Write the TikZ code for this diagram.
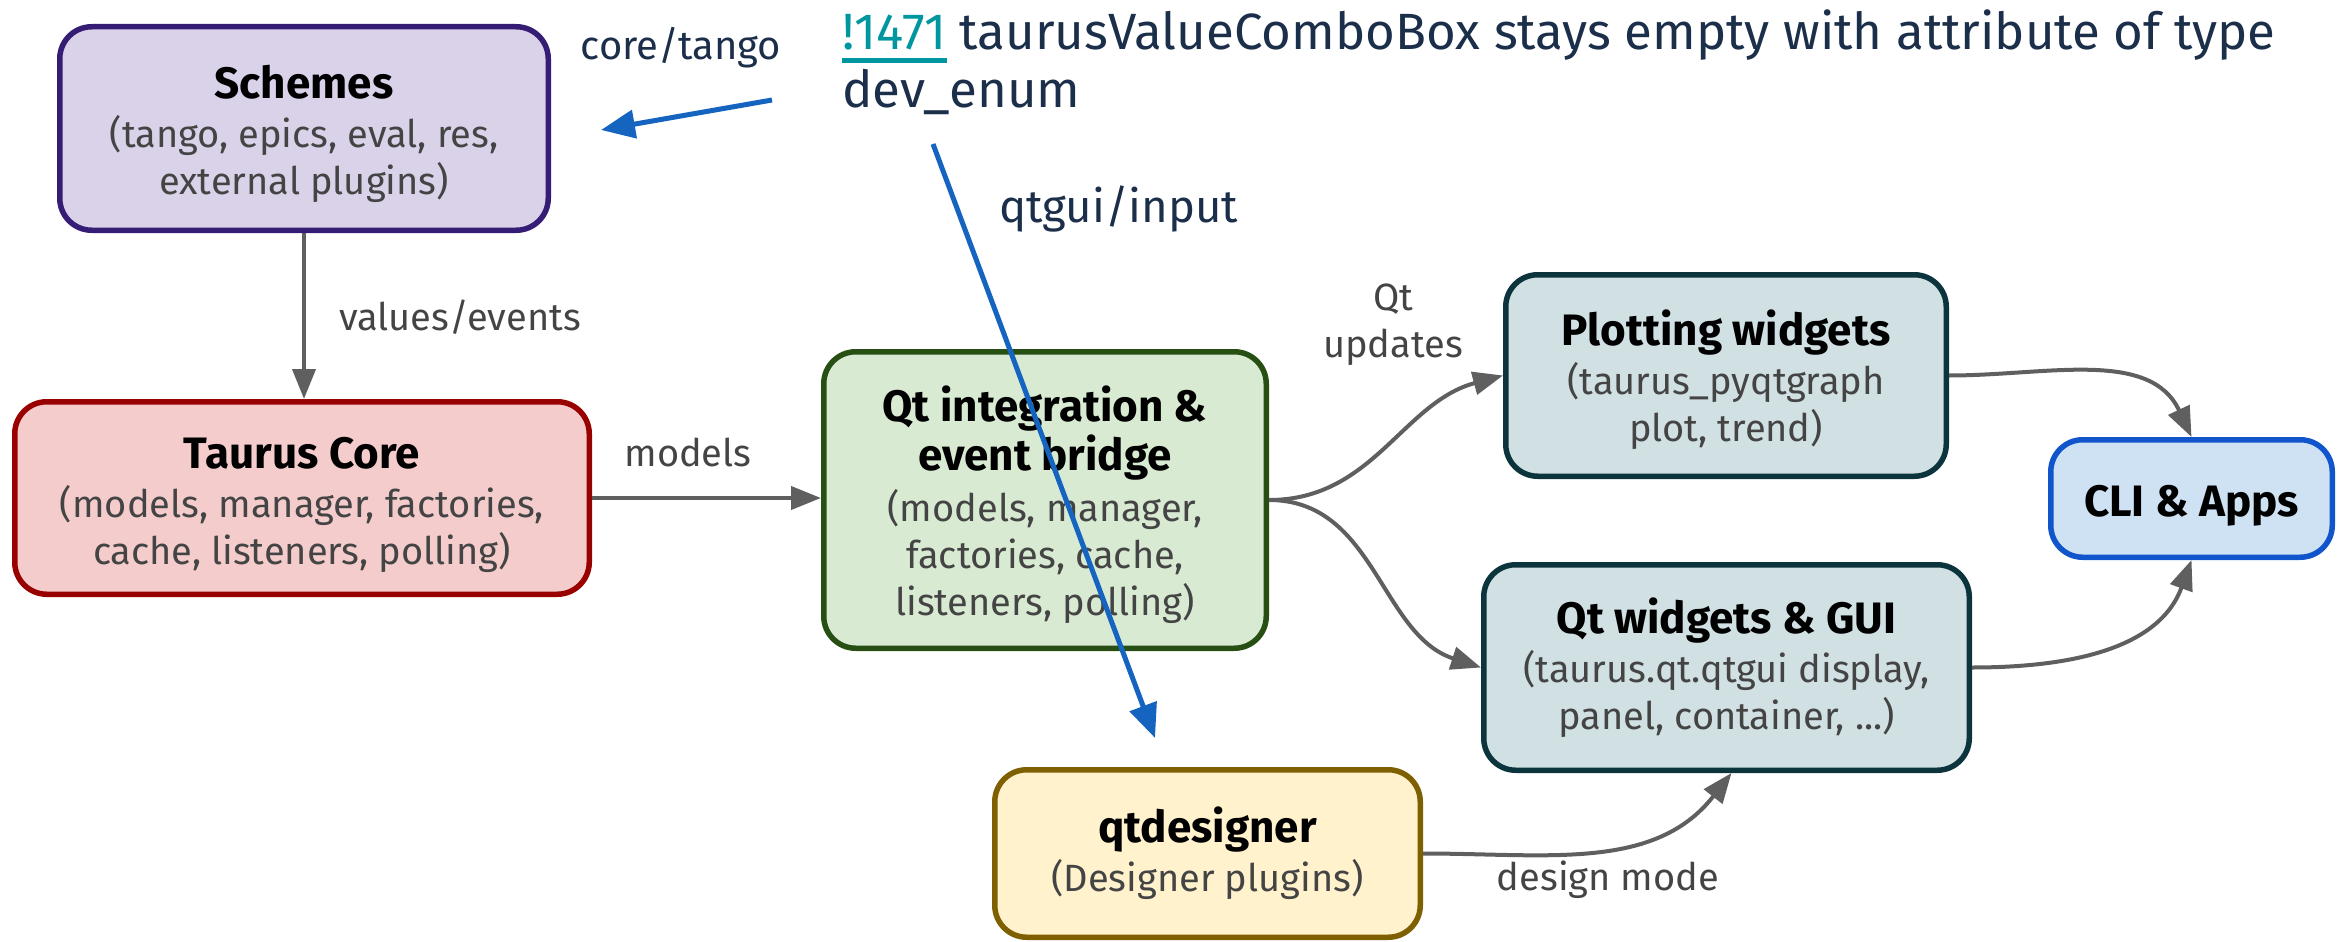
\documentclass[tikz,border=0pt]{standalone}
\usepackage{fontspec}
\setmainfont{Fira Sans}
\usetikzlibrary{arrows.meta}
\definecolor{schfill}{RGB}{217,210,233}
\definecolor{schdraw}{RGB}{53,28,117}
\definecolor{corefill}{RGB}{244,204,204}
\definecolor{coredraw}{RGB}{153,0,0}
\definecolor{qtfill}{RGB}{217,234,211}
\definecolor{qtdraw}{RGB}{39,78,19}
\definecolor{wfill}{RGB}{208,224,227}
\definecolor{wdraw}{RGB}{12,52,61}
\definecolor{clifill}{RGB}{207,226,243}
\definecolor{clidraw}{RGB}{17,85,204}
\definecolor{desfill}{RGB}{255,242,204}
\definecolor{desdraw}{RGB}{127,96,0}
\definecolor{subgray}{RGB}{68,68,68}
\definecolor{arrowgray}{RGB}{95,95,95}
\definecolor{navy}{RGB}{27,46,74}
\definecolor{linkteal}{RGB}{0,150,160}
\definecolor{issueblue}{RGB}{21,101,192}
\newcommand\ttl[1]{{\fontsize{44}{50}\selectfont\bfseries\color{black}#1}}
\newcommand\upstrut{\rule{0pt}{45pt}}
\begin{document}
\begin{tikzpicture}[x=1pt,y=-1pt,
  box/.style={draw, line width=5.5pt, rounded corners=32pt, align=center, inner sep=0pt,
    font=\fontsize{38}{47}\selectfont, text=subgray},
  flow/.style={draw=arrowgray, line width=4pt, -{Triangle[length=30pt,width=23pt]}},
  issuearrow/.style={draw=issueblue, line width=5pt, -{Triangle[length=34pt,width=28pt]}},
  elabel/.style={text=subgray, font=\fontsize{38}{47}\selectfont, align=center, inner sep=0pt},
  issuefont/.style={font=\fontsize{51}{57}\selectfont, inner sep=0pt, anchor=base west}
]
\useasboundingbox (0,0) rectangle (2346,942);

% nodes
\node[box, fill=schfill, draw=schdraw, minimum width=488.5pt, minimum height=203.5pt] (schemes) at (304,128.5)
  {\upstrut\ttl{Schemes}\\[2pt](tango, epics, eval, res,\\external plugins)};
\node[box, fill=corefill, draw=coredraw, minimum width=574.5pt, minimum height=192.5pt] (core) at (302,498)
  {\upstrut\ttl{Taurus Core}\\[2pt](models, manager, factories,\\cache, listeners, polling)};
\node[box, fill=qtfill, draw=qtdraw, minimum width=442.5pt, minimum height=296.5pt] (qt) at (1045,500)
  {\upstrut\ttl{Qt integration \&}\\[2pt]\ttl{event bridge}\\[4pt](models, manager,\\factories, cache,\\listeners, polling)};
\node[box, fill=wfill, draw=wdraw, minimum width=440.5pt, minimum height=201.5pt] (plot) at (1726,375.5)
  {\upstrut\ttl{Plotting widgets}\\[2pt](taurus\_pyqtgraph\\plot, trend)};
\node[box, fill=wfill, draw=wdraw, minimum width=485.5pt, minimum height=205.5pt] (qtw) at (1726.5,667.5)
  {\ttl{Qt widgets \& GUI}\\[2pt](taurus.qt.qtgui display,\\panel, container, ...)};
\node[box, fill=clifill, draw=clidraw, minimum width=281.5pt, minimum height=117.5pt] (cli) at (2191.5,498.5)
  {\upstrut\ttl{CLI \& Apps}};
\node[box, fill=desfill, draw=desdraw, minimum width=425.5pt, minimum height=167.5pt] (des) at (1207.5,853.5)
  {\ttl{qtdesigner}\\[2pt](Designer plugins)};

% connectors
\draw[flow] (schemes.south) -- (schemes.south |- core.north);
\draw[flow] (core.east) -- (core.east -| qt.west);
\draw[flow] (qt.east) to[out=0,in=195] (plot.west);
\draw[flow] (qt.east) to[out=0,in=162] (qtw.west);
\draw[flow] (plot.east) to[out=0,in=115] (cli.north);
\draw[flow] (qtw.east) to[out=0,in=-110] (cli.south);
\draw[flow] (des.east) to[out=0,in=-128] ([xshift=5pt]qtw.south);

% edge labels
\node[elabel] (lvalues) at (460,317) {values/events};
\node[elabel] (lmodels) at (688,452) {models};
\node[elabel] (lqt) at (1393,325) {Qt\\updates};
\node[elabel] (ldesign) at (1608,880) {design mode};

% issue annotation
\node[issuefont, text=linkteal] (link) at (842,50) {!1471};
\draw[linkteal, line width=5pt] ([yshift=-11pt]link.base west) -- ([yshift=-11pt]link.base east);
\node[issuefont, text=navy] (issue1) at ([xshift=13pt]link.base east) {taurusValueComboBox stays empty with attribute of type};
\node[issuefont, text=navy] (issue2) at (842,107) {dev\_enum};
\node[text=navy, font=\fontsize{40}{46}\selectfont, inner sep=0pt] (ltango) at (681,48) {core/tango};
\node[text=navy, font=\fontsize{45.5}{52}\selectfont, inner sep=0pt] (lqtgui) at (1119,209) {qtgui/input};

\coordinate (a1s) at (772,100);
\coordinate (a1e) at (601,130);
\coordinate (a2s) at (933,144);
\coordinate (a2e) at (1155,738);
\draw[issuearrow] (a1s) -- (a1e);
\draw[issuearrow] (a2s) -- (a2e);
\end{tikzpicture}
\end{document}
